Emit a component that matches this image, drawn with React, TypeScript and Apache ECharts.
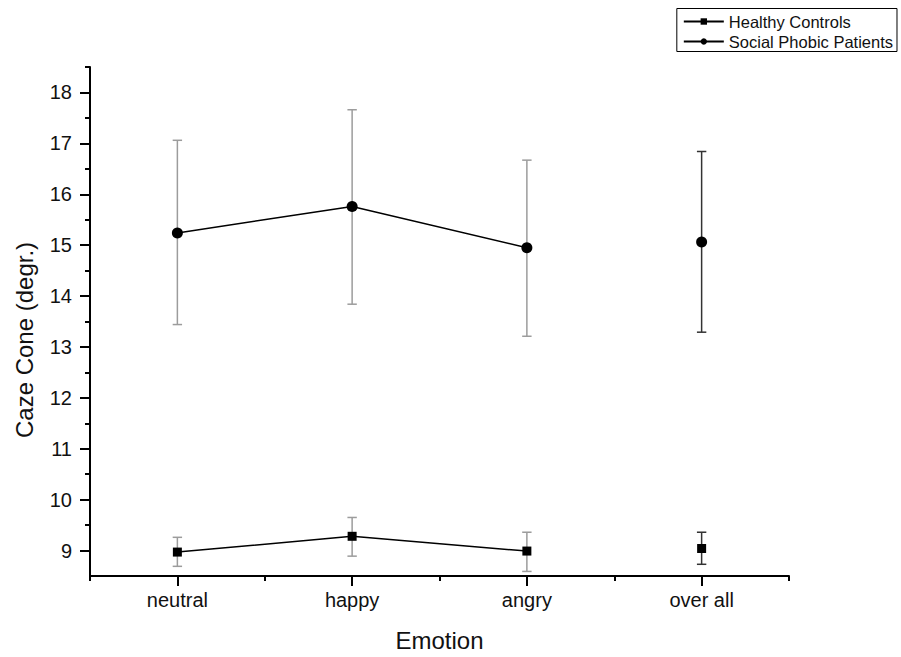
import React, { useEffect, useRef } from "react";
import * as echarts from "echarts";

const categories = ["neutral", "happy", "angry", "over all"];
const seriesNames = ["Healthy Controls", "Social Phobic Patients"];

const healthyMean = [8.97, 9.28, 8.99, 9.04];
const healthyLow = [8.69, 8.89, 8.59, 8.73];
const healthyHigh = [9.26, 9.65, 9.36, 9.36];

const phobicMean = [15.24, 15.76, 14.95, 15.06];
const phobicLow = [13.44, 13.84, 13.21, 13.29];
const phobicHigh = [17.06, 17.66, 16.67, 16.84];

const yMajorTicks = [9, 10, 11, 12, 13, 14, 15, 16, 17, 18];
const yMinorTicks = [9.5, 10.5, 11.5, 12.5, 13.5, 14.5, 15.5, 16.5, 17.5, 18.5];
const yMin = 8.5;
const yMax = 18.5;

const FONT = "'Liberation Sans', Arial, Helvetica, sans-serif";

export default function App() {
  const ref = useRef<HTMLDivElement>(null);

  useEffect(() => {
    if (!ref.current) return;
    const chart = echarts.init(ref.current, null, { renderer: "svg" });

    const lastIdx = categories.length - 1;
    const connected = (arr: number[]) => arr.map((v, i) => (i < lastIdx ? v : "-"));
    const separate = (arr: number[]) => arr.map((v, i) => (i === lastIdx ? v : "-"));
    const errData = (lo: number[], hi: number[]) => lo.map((l, i) => [i, l, hi[i]]);

    const renderErr = (params: any, api: any) => {
      const x = api.value(0);
      const lo = api.value(1);
      const hi = api.value(2);
      const top = api.coord([x, hi]);
      const bot = api.coord([x, lo]);
      const hw = 4.7;
      const color = x === lastIdx ? "#333333" : "#9c9c9c";
      const style = { stroke: color, lineWidth: 1.5 };
      return {
        type: "group",
        children: [
          { type: "line", shape: { x1: top[0], y1: top[1], x2: bot[0], y2: bot[1] }, style },
          { type: "line", shape: { x1: top[0] - hw, y1: top[1], x2: top[0] + hw, y2: top[1] }, style },
          { type: "line", shape: { x1: bot[0] - hw, y1: bot[1], x2: bot[0] + hw, y2: bot[1] }, style },
        ],
      };
    };

    const lineCommon = {
      type: "line",
      xAxisIndex: 0,
      yAxisIndex: 0,
      z: 3,
      lineStyle: { color: "#000", width: 1.5 },
      itemStyle: { color: "#000", opacity: 1 },
      emphasis: { disabled: true },
    };

    const scatterCommon = {
      type: "scatter",
      xAxisIndex: 0,
      yAxisIndex: 0,
      z: 3,
      itemStyle: { color: "#000", opacity: 1 },
      emphasis: { disabled: true },
    };

    chart.setOption({
      animation: false,
      backgroundColor: "#fff",
      textStyle: { fontFamily: FONT },
      grid: { left: 90, right: 112, top: 67, bottom: 78, containLabel: false },
      legend: {
        orient: "vertical",
        right: 4,
        top: 8.5,
        data: seriesNames,
        itemWidth: 40,
        itemHeight: 8,
        itemGap: 2,
        padding: [4, 4, 1, 6],
        borderColor: "#000",
        borderWidth: 1,
        borderRadius: 0,
        backgroundColor: "#fff",
        selectedMode: false,
        align: "left",
        textStyle: { fontSize: 16.5, color: "#111", fontFamily: FONT, lineHeight: 18 },
      },
      xAxis: [
        {
          type: "category",
          data: categories,
          boundaryGap: true,
          axisLine: { show: true, lineStyle: { color: "#000", width: 2 } },
          axisTick: { show: true, alignWithLabel: true, length: 10, lineStyle: { color: "#000", width: 2 } },
          axisLabel: { fontSize: 20, color: "#111", margin: 14, fontFamily: FONT },
          splitLine: { show: false },
          name: "Emotion",
          nameLocation: "middle",
          nameGap: 52,
          nameTextStyle: { fontSize: 24, color: "#111", fontFamily: FONT },
        },
        {
          type: "category",
          data: categories,
          boundaryGap: true,
          position: "bottom",
          axisLine: { show: false },
          axisTick: { show: true, length: 5, lineStyle: { color: "#000", width: 2 } },
          axisLabel: { show: false },
          splitLine: { show: false },
        },
      ],
      yAxis: [
        {
          type: "value",
          min: yMin,
          max: yMax,
          axisLine: { show: true, lineStyle: { color: "#000", width: 2 } },
          axisTick: { show: true, length: 10, customValues: yMajorTicks, lineStyle: { color: "#000", width: 2 } },
          axisLabel: { fontSize: 20, color: "#111", margin: 18, customValues: yMajorTicks, fontFamily: FONT },
          splitLine: { show: false },
        },
        {
          type: "value",
          min: yMin,
          max: yMax,
          position: "left",
          axisLine: { show: false },
          axisTick: { show: true, length: 5, customValues: yMinorTicks, lineStyle: { color: "#000", width: 2 } },
          axisLabel: { show: false },
          splitLine: { show: false },
        },
      ],
      graphic: [
        {
          type: "text",
          x: 24,
          y: 340,
          rotation: Math.PI / 2,
          style: {
            text: "Caze Cone (degr.)",
            fontSize: 24,
            fill: "#111",
            fontFamily: FONT,
            textAlign: "center",
            textVerticalAlign: "middle",
          },
        },
      ],
      series: [
        {
          ...lineCommon,
          name: seriesNames[0],
          data: connected(healthyMean),
          symbol: "rect",
          symbolSize: 9,
        },
        {
          ...lineCommon,
          name: seriesNames[1],
          data: connected(phobicMean),
          symbol: "circle",
          symbolSize: 11,
        },
        {
          ...scatterCommon,
          name: seriesNames[0],
          data: separate(healthyMean),
          symbol: "rect",
          symbolSize: 9,
        },
        {
          ...scatterCommon,
          name: seriesNames[1],
          data: separate(phobicMean),
          symbol: "circle",
          symbolSize: 11,
        },
        {
          type: "custom",
          name: "err-healthy",
          xAxisIndex: 0,
          yAxisIndex: 0,
          z: 1,
          renderItem: renderErr,
          encode: { x: 0, y: [1, 2] },
          data: errData(healthyLow, healthyHigh),
        },
        {
          type: "custom",
          name: "err-phobic",
          xAxisIndex: 0,
          yAxisIndex: 0,
          z: 1,
          renderItem: renderErr,
          encode: { x: 0, y: [1, 2] },
          data: errData(phobicLow, phobicHigh),
        },
      ],
    });

    return () => chart.dispose();
  }, []);

  return (
    <div
      ref={ref}
      style={{ position: "fixed", left: 0, top: 0, width: 901, height: 657, background: "#fff" }}
    />
  );
}
